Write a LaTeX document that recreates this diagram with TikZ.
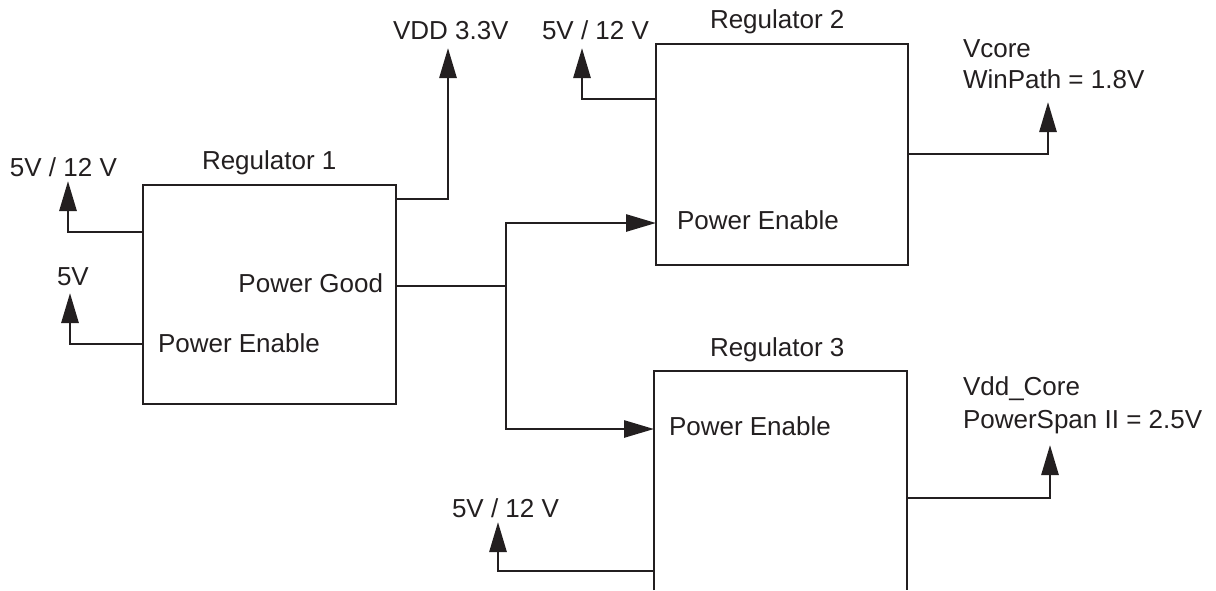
\documentclass[tikz,border=0pt]{standalone}
\usepackage{fontspec}
\setmainfont{Liberation Sans}
\usetikzlibrary{arrows.meta,fit}
\definecolor{ink}{HTML}{231F20}
\begin{document}
\begin{tikzpicture}[x=0.5pt,y=-0.5pt,
  every node/.style={font=\fontsize{13}{15.6}\selectfont, text=ink, inner sep=0pt, outer sep=0pt},
  lbl/.style={anchor=base west},
  lble/.style={anchor=base east},
  box/.style={draw=ink, line width=1.4pt, inner sep=0pt},
  wire/.style={draw=ink, line width=1.4pt},
  arr/.style={wire, -{Triangle[length=15pt,width=8.5pt]}}]
\useasboundingbox (0,0) rectangle (1216,590);

% boxes
\node[box, fit={(143,185)(396,404)}] (r1) {};
\node[box, fit={(656,44)(908,265)}] (r2) {};
\coordinate (r3bl) at (654,590);
\coordinate (r3tl) at (654,371);
\coordinate (r3tr) at (907,371);
\coordinate (r3br) at (907,590);
\draw[wire] (r3bl) -- (r3tl) -- (r3tr) -- (r3br);

% labels
\node[lbl] (s1) at (10,176) {5V / 12 V};
\node[lbl] (n1) at (202,169) {Regulator 1};
\node[lbl] (s2) at (57,285) {5V};
\node[lble] (pg) at (383,292) {Power Good};
\node[lbl] (pe1) at (158,352) {Power Enable};
\node[lbl] (vdd) at (393,39) {VDD 3.3V};
\node[lbl] (s3) at (542,39) {5V / 12 V};
\node[lbl] (n2) at (710,28) {Regulator 2};
\node[lbl] (pe2) at (677,229) {Power Enable};
\node[lbl] (vc1) at (963,57) {Vcore};
\node[lbl] (vc2) at (963,88) {WinPath = 1.8V};
\node[lbl] (n3) at (710,356) {Regulator 3};
\node[lbl] (pe3) at (669,435) {Power Enable};
\node[lbl] (vd1) at (963,395) {Vdd\_Core};
\node[lbl] (vd2) at (963,428) {PowerSpan II = 2.5V};
\node[lbl] (s4) at (452,517) {5V / 12 V};

% connector points
\coordinate (t1) at (68,181);   \coordinate (j1) at (68,232);
\coordinate (t2) at (70,293);   \coordinate (j2) at (70,344);
\coordinate (t3) at (448,48);   \coordinate (j3) at (448,199);
\coordinate (jb) at (506,286);  \coordinate (bt) at (506,223);
\coordinate (bb) at (506,429);
\coordinate (t5) at (582,48);   \coordinate (j5) at (582,99);
\coordinate (t6) at (1048,102); \coordinate (j6) at (1048,154);
\coordinate (t7) at (1050,445); \coordinate (j7) at (1050,498);
\coordinate (t8) at (498,522);  \coordinate (j8) at (498,571);

% connectors
\draw[arr] (r1.west |- j1) -- (j1) -- (t1);
\draw[arr] (r1.west |- j2) -- (j2) -- (t2);
\draw[arr] (r1.east |- j3) -- (j3) -- (t3);
\draw[wire] (r1.east |- jb) -- (jb);
\draw[arr] (jb) -- (bt) -- (r2.west |- bt);
\draw[arr] (jb) -- (bb) -- (r3tl |- bb);
\draw[arr] (r2.west |- j5) -- (j5) -- (t5);
\draw[arr] (r2.east |- j6) -- (j6) -- (t6);
\draw[arr] (r3tr |- j7) -- (j7) -- (t7);
\draw[arr] (r3tl |- j8) -- (j8) -- (t8);
\end{tikzpicture}
\end{document}
